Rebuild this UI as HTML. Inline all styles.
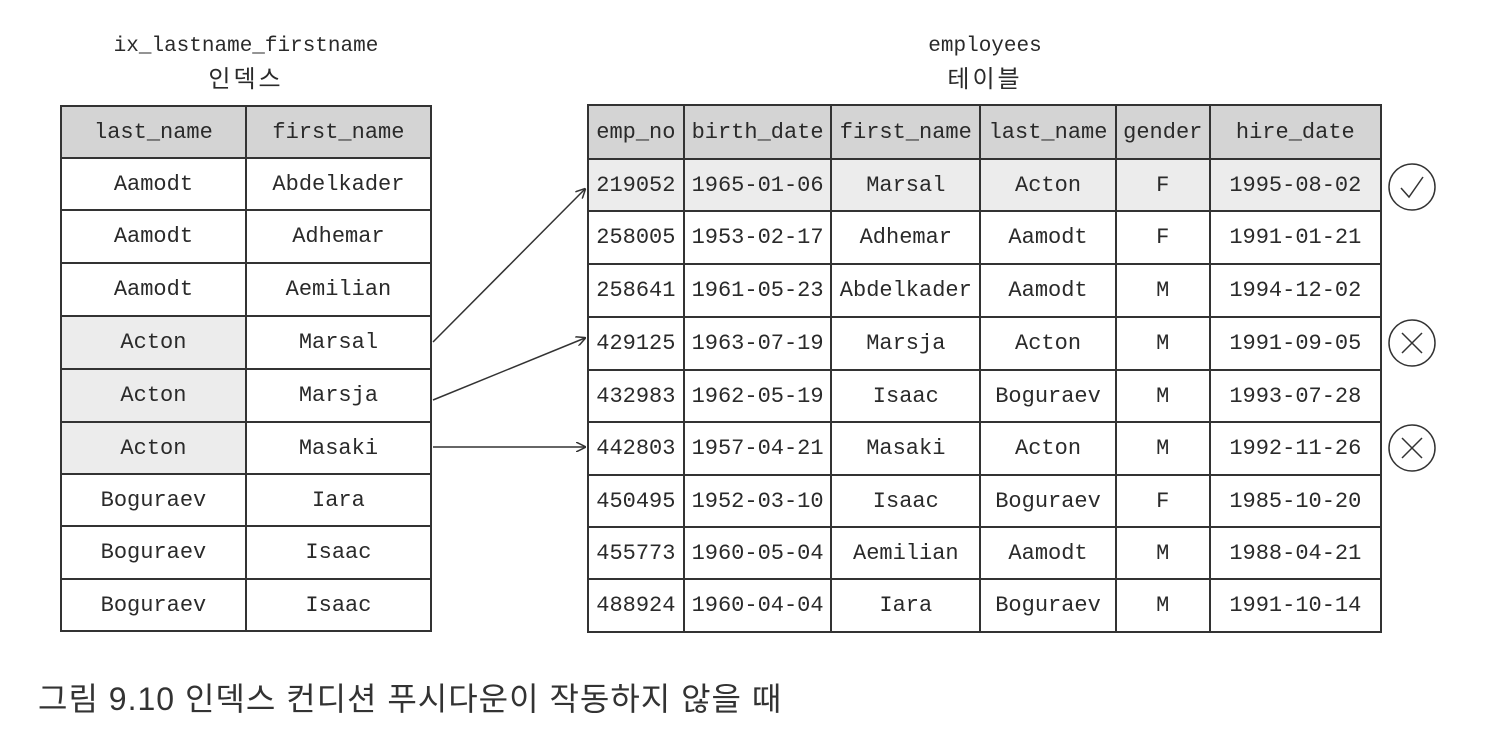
<!DOCTYPE html>
<html><head><meta charset="utf-8"><style>
body{margin:0;width:1510px;height:744px;background:#fff;position:relative;overflow:hidden;font-family:"Liberation Mono","Noto Sans CJK KR",monospace;color:#2a2a2a}
table{position:absolute;border-collapse:collapse;font-size:22px}
td{border:2px solid #333;text-align:center;padding:0;white-space:nowrap}
.h td{background:#d4d4d4}
.g{background:#ececec}
.t{position:absolute;text-align:center;font-size:21px;line-height:30px;color:#2a2a2a}
.k{font-family:"Noto Sans CJK KR",sans-serif;font-size:24px;letter-spacing:3px}
.cap{position:absolute;left:38px;top:674px;font-family:"Liberation Sans","Noto Sans CJK KR",sans-serif;font-size:32px;color:#333;letter-spacing:1px}
</style></head><body>
<div class="t" style="left:60px;width:372px;top:32px">ix_lastname_firstname<br><span class="k">인덱스</span></div>
<div class="t" style="left:770px;width:430px;top:32px">employees<br><span class="k">테이블</span></div>
<table style="left:60px;top:105px;width:372px">
<colgroup><col style="width:186px"><col style="width:186px"></colgroup>
<tr class="h" style="height:52px"><td>last_name</td><td>first_name</td></tr>
<tr style="height:52px"><td>Aamodt</td><td>Abdelkader</td></tr>
<tr style="height:53px"><td>Aamodt</td><td>Adhemar</td></tr>
<tr style="height:53px"><td>Aamodt</td><td>Aemilian</td></tr>
<tr style="height:53px"><td class="g">Acton</td><td>Marsal</td></tr>
<tr style="height:53px"><td class="g">Acton</td><td>Marsja</td></tr>
<tr style="height:52px"><td class="g">Acton</td><td>Masaki</td></tr>
<tr style="height:52px"><td>Boguraev</td><td>Iara</td></tr>
<tr style="height:53px"><td>Boguraev</td><td>Isaac</td></tr>
<tr style="height:52px"><td>Boguraev</td><td>Isaac</td></tr>
</table>
<table style="left:587px;top:104px;width:795px">
<colgroup><col style="width:96px"><col style="width:148px"><col style="width:149px"><col style="width:136px"><col style="width:94px"><col style="width:172px"></colgroup>
<tr class="h" style="height:54px"><td>emp_no</td><td>birth_date</td><td>first_name</td><td>last_name</td><td>gender</td><td>hire_date</td></tr>
<tr class="g" style="height:52px"><td>219052</td><td>1965-01-06</td><td>Marsal</td><td>Acton</td><td>F</td><td>1995-08-02</td></tr>
<tr style="height:53px"><td>258005</td><td>1953-02-17</td><td>Adhemar</td><td>Aamodt</td><td>F</td><td>1991-01-21</td></tr>
<tr style="height:53px"><td>258641</td><td>1961-05-23</td><td>Abdelkader</td><td>Aamodt</td><td>M</td><td>1994-12-02</td></tr>
<tr style="height:53px"><td>429125</td><td>1963-07-19</td><td>Marsja</td><td>Acton</td><td>M</td><td>1991-09-05</td></tr>
<tr style="height:52px"><td>432983</td><td>1962-05-19</td><td>Isaac</td><td>Boguraev</td><td>M</td><td>1993-07-28</td></tr>
<tr style="height:53px"><td>442803</td><td>1957-04-21</td><td>Masaki</td><td>Acton</td><td>M</td><td>1992-11-26</td></tr>
<tr style="height:52px"><td>450495</td><td>1952-03-10</td><td>Isaac</td><td>Boguraev</td><td>F</td><td>1985-10-20</td></tr>
<tr style="height:52px"><td>455773</td><td>1960-05-04</td><td>Aemilian</td><td>Aamodt</td><td>M</td><td>1988-04-21</td></tr>
<tr style="height:53px"><td>488924</td><td>1960-04-04</td><td>Iara</td><td>Boguraev</td><td>M</td><td>1991-10-14</td></tr>
</table>
<svg style="position:absolute;left:0;top:0" width="1510" height="744">
<defs><marker id="a" markerWidth="10" markerHeight="10" refX="9" refY="5" orient="auto" markerUnits="userSpaceOnUse"><path d="M0,0 L10,5 L0,10" fill="none" stroke="#333" stroke-width="1.5"/></marker></defs>
<g stroke="#333" stroke-width="1.5" fill="none">
<line x1="433" y1="342" x2="585" y2="189" marker-end="url(#a)"/>
<line x1="433" y1="400" x2="585" y2="338" marker-end="url(#a)"/>
<line x1="433" y1="447" x2="585" y2="447" marker-end="url(#a)"/>
<circle cx="1412" cy="187" r="23"/>
<path d="M1401,188 L1409,197 L1423,177"/>
<circle cx="1412" cy="343" r="23"/>
<path d="M1402,333 L1422,353 M1422,333 L1402,353"/>
<circle cx="1412" cy="448" r="23"/>
<path d="M1402,438 L1422,458 M1422,438 L1402,458"/>
</g></svg>
<div class="cap">그림 9.10 인덱스 컨디션 푸시다운이 작동하지 않을 때</div>
</body></html>
